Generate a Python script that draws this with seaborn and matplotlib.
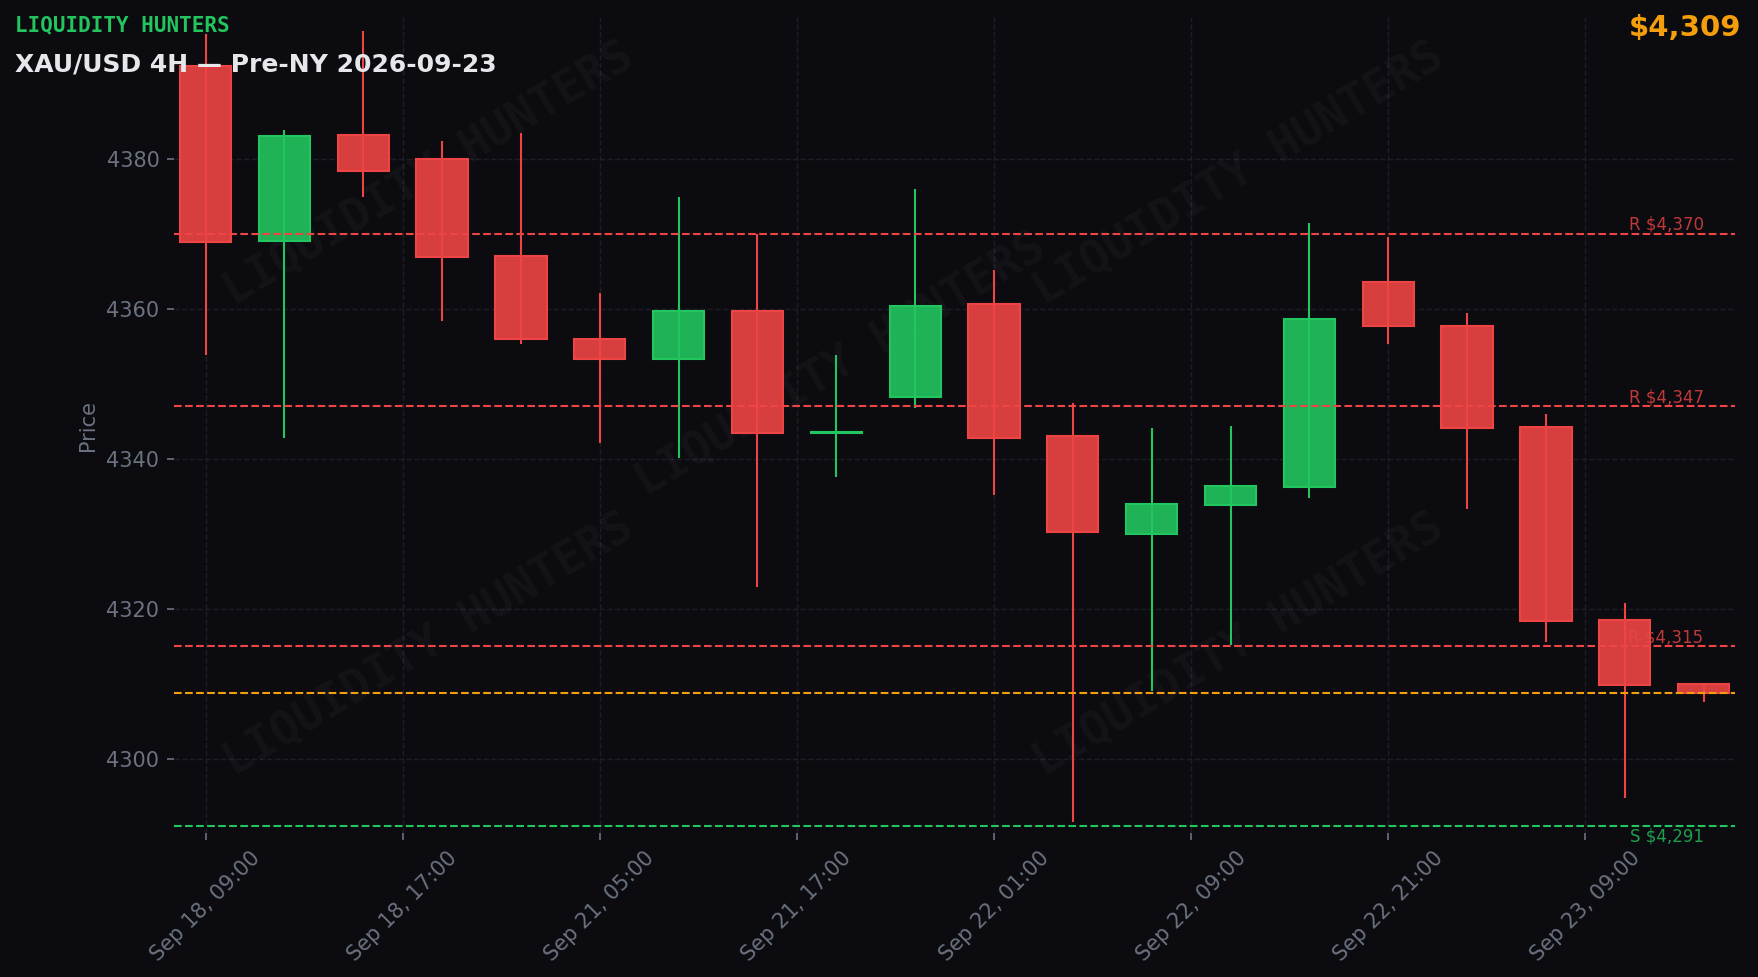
"""XAU/USD 4H candlestick snapshot with key levels (dark theme)."""

import matplotlib

matplotlib.use("Agg")

import matplotlib.pyplot as plt
import numpy as np
import pandas as pd
import seaborn as sns
from matplotlib.ticker import FixedLocator, FuncFormatter


TIMES = [
    "2026-09-18 09:00", "2026-09-18 13:00", "2026-09-18 17:00", "2026-09-18 21:00",
    "2026-09-21 01:00", "2026-09-21 05:00", "2026-09-21 09:00", "2026-09-21 13:00",
    "2026-09-21 17:00", "2026-09-21 21:00", "2026-09-22 01:00", "2026-09-22 05:00",
    "2026-09-22 09:00", "2026-09-22 13:00", "2026-09-22 17:00", "2026-09-22 21:00",
    "2026-09-23 01:00", "2026-09-23 05:00", "2026-09-23 09:00", "2026-09-23 13:00",
]
OPENS = [4392.4, 4369.0, 4383.1, 4380.0, 4367.0, 4356.0, 4353.3, 4359.7, 4343.4, 4348.2,
         4360.6, 4343.0, 4330.0, 4333.8, 4336.2, 4363.6, 4357.7, 4344.2, 4318.5, 4310.0]
HIGHS = [4396.6, 4383.8, 4397.0, 4382.4, 4383.4, 4362.1, 4374.9, 4369.9, 4353.8, 4376.0,
         4365.2, 4347.4, 4344.1, 4344.4, 4371.4, 4369.5, 4359.4, 4345.9, 4320.7, 4310.0]
LOWS = [4353.8, 4342.8, 4374.9, 4358.4, 4355.3, 4342.1, 4340.1, 4322.9, 4337.6, 4346.8,
        4335.1, 4291.6, 4309.0, 4315.1, 4334.8, 4355.3, 4333.3, 4315.6, 4294.7, 4307.5]
CLOSES = [4368.9, 4383.0, 4378.3, 4366.9, 4355.9, 4353.3, 4359.7, 4343.4, 4343.6, 4360.4,
          4342.8, 4330.2, 4333.9, 4336.3, 4358.6, 4357.7, 4344.1, 4318.4, 4309.8, 4308.8]

RESISTANCE = [4370, 4347, 4315]
SUPPORT = [4291]
CURRENT_PRICE = 4308.8

BG = "#0b0b10"
GRID = "#2a2a35"
MUTED = "#6b7280"
UP = "#22c55e"
DOWN = "#ef4444"
ORANGE = "#f59e0b"


def build_frame() -> pd.DataFrame:
    df = pd.DataFrame(
        {
            "time": pd.to_datetime(TIMES),
            "open": OPENS,
            "high": HIGHS,
            "low": LOWS,
            "close": CLOSES,
        }
    )
    df["idx"] = np.arange(len(df))
    df["up"] = df["close"] >= df["open"]
    df["body_lo"] = df[["open", "close"]].min(axis=1)
    df["body_h"] = (df["close"] - df["open"]).abs().clip(lower=0.15)
    return df


def draw_candles(ax, df: pd.DataFrame) -> None:
    colors = np.where(df["up"], UP, DOWN)
    ax.vlines(df["idx"], df["low"], df["high"], colors=colors, linewidth=1.0, zorder=2)
    ax.bar(
        df["idx"], df["body_h"], bottom=df["body_lo"], width=0.65,
        color=[matplotlib.colors.to_rgba(c, 0.9) for c in colors],
        edgecolor=colors, linewidth=1.0, zorder=3,
    )


def draw_levels(ax, last_x: float) -> None:
    for level in RESISTANCE:
        ax.axhline(level, color=DOWN, ls="--", lw=1.0, zorder=4)
        ax.text(last_x, level, f"R ${level:,}", color=DOWN, alpha=0.8,
                fontsize=8, ha="right", va="bottom", zorder=5)
    for level in SUPPORT:
        ax.axhline(level, color=UP, ls="--", lw=1.0, zorder=4)
        ax.text(last_x, level - 0.15, f"S ${level:,}", color=UP, alpha=0.8,
                fontsize=8, ha="right", va="top", zorder=5)
    ax.axhline(CURRENT_PRICE, color=ORANGE, ls="--", lw=1.0, zorder=4)


def main() -> None:
    sns.set_theme(style="dark")
    plt.rcParams["font.family"] = ["DejaVu Sans"]
    df = build_frame()

    fig = plt.figure(figsize=(11.72, 6.515), dpi=150, facecolor=BG)
    ax = fig.add_axes([0.099, 0.1474, 0.888, 0.8352])
    ax.set_facecolor(BG)

    # faint diagonal watermark
    for x, y in [(0.163, 0.808), (0.682, 0.808), (0.427, 0.574), (0.163, 0.230), (0.682, 0.230)]:
        ax.text(x, y, "LIQUIDITY HUNTERS", transform=ax.transAxes, rotation=31,
                ha="center", va="center", fontsize=22, fontweight="bold",
                family="DejaVu Sans Mono", color="white", alpha=0.035, zorder=1)

    draw_candles(ax, df)
    draw_levels(ax, df["idx"].iloc[-1])

    ax.set_xlim(-0.4, len(df) - 0.6)
    ax.set_ylim(4290.1, 4398.9)

    ticks = np.arange(0, len(df), 2.5)
    ax.xaxis.set_major_locator(FixedLocator(ticks))
    ax.xaxis.set_major_formatter(
        FuncFormatter(lambda v, _: df["time"].iloc[int(round(v))].strftime("%b %d, %H:%M"))
    )
    ax.set_yticks([4300, 4320, 4340, 4360, 4380])
    ax.tick_params(axis="both", colors=MUTED, labelcolor=MUTED, labelsize=10,
                   length=3.5, width=0.8, bottom=True, left=True)
    plt.setp(ax.get_xticklabels(), rotation=45)
    ax.set_ylabel("Price", color=MUTED, fontsize=10)
    ax.set_xlabel("")

    ax.grid(True, ls="--", color=GRID, lw=0.7, alpha=0.6, zorder=0)
    for spine in ax.spines.values():
        spine.set_visible(False)

    fig.text(0.0085, 0.9737, "LIQUIDITY HUNTERS", color=UP, fontsize=10,
             fontweight="bold", family="DejaVu Sans Mono", ha="left", va="center")
    fig.text(0.0085, 0.9335, "XAU/USD 4H \u2014 Pre-NY 2026-09-23", color="#e5e7eb",
             fontsize=12, fontweight="bold", ha="left", va="center")
    fig.text(0.9903, 0.9713, f"${CURRENT_PRICE:,.0f}", color=ORANGE, fontsize=14,
             fontweight="bold", ha="right", va="center")

    fig.savefig("out.png", dpi=150, facecolor=BG)
    plt.close(fig)


if __name__ == "__main__":
    main()
